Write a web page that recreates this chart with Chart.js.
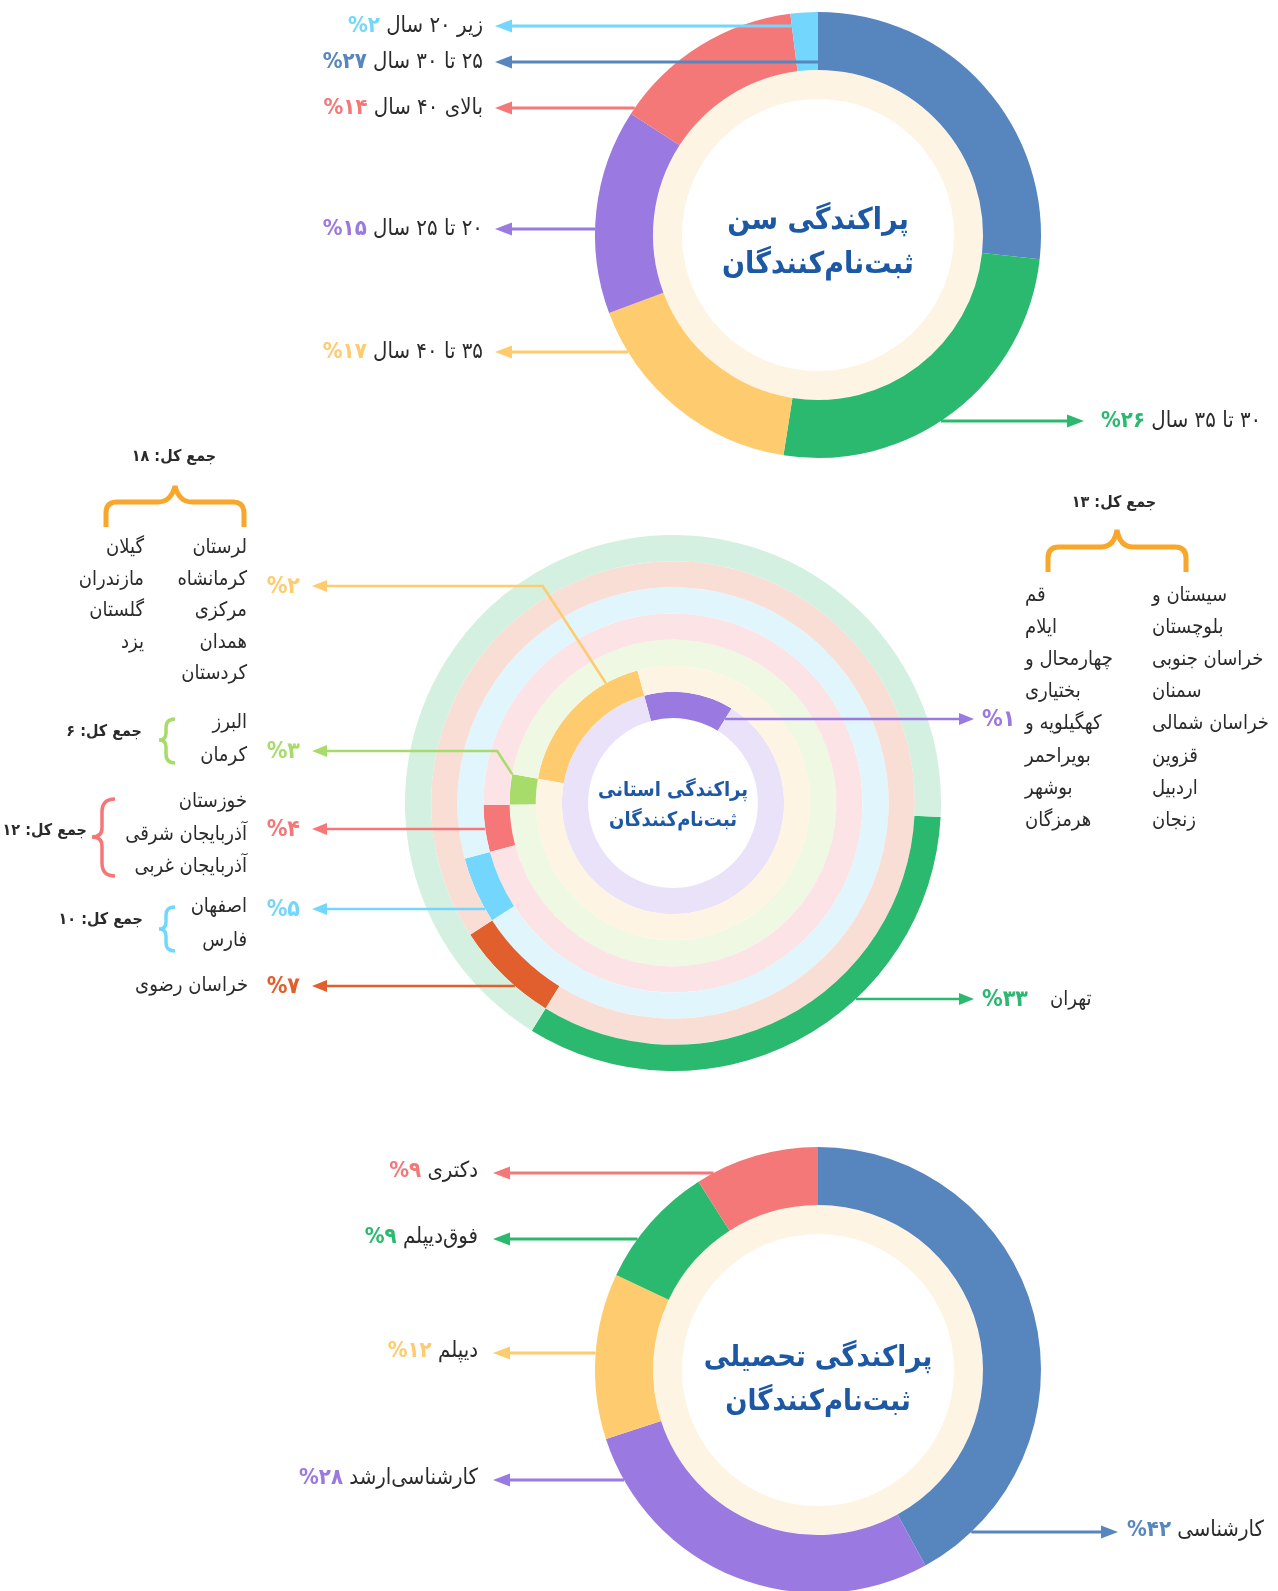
<!DOCTYPE html>
<html lang="fa">
<head>
<meta charset="utf-8">
<title>پراکندگی ثبت‌نام‌کنندگان</title>
<script src="https://cdn.jsdelivr.net/npm/chart.js@4.4.1/dist/chart.umd.min.js"></script>
<style>
  html, body { margin: 0; padding: 0; background: #fff; overflow: hidden; }
  #page { position: relative; width: 1278px; height: 1591px; overflow: hidden;
          font-family: "DejaVu Sans Condensed", "DejaVu Sans", sans-serif; }
  canvas.ring { position: absolute; left: 0; }
  .lbl { position: absolute; white-space: nowrap; direction: rtl; color: #2b2b2b; }
  .pct { font-weight: bold; direction: ltr; unicode-bidi: isolate; }
  .title { position: absolute; text-align: center; color: #1d58a5; font-weight: bold;
           direction: rtl; white-space: nowrap; }
  #braces { position: absolute; left: 0; top: 0; }
</style>
</head>
<body>
<div id="page">
  <canvas id="ageChart" class="ring" width="1278" height="470" style="top:0"></canvas>
  <canvas id="provChart" class="ring" width="1278" height="600" style="top:500px"></canvas>
  <canvas id="eduChart" class="ring" width="1278" height="480" style="top:1120px"></canvas>
  <svg id="braces" width="1278" height="1591" fill="none">
    <path d="M106,527 L106,513 Q106,502 117,502 L158,502 Q171,502 175,486 Q179,502 192,502 L233,502 Q244,502 244,513 L244,527" stroke="#f9a72b" stroke-width="5"/>
    <path d="M1048,572 L1048,558 Q1048,547 1059,547 L1101,547 Q1114,547 1117,530 Q1120,547 1133,547 L1175,547 Q1186,547 1186,558 L1186,572" stroke="#f9a72b" stroke-width="5"/>
    <path d="M175,719 Q166,719 166,728 L166,733 Q166,740 159,740 Q166,740 166,747 L166,754 Q166,763 175,763" stroke="#a7dc6b" stroke-width="3.5"/>
    <path d="M115,799 Q102,799 102,812 L102,828 Q102,837 92,837 Q102,837 102,846 L102,863 Q102,876 115,876" stroke="#f57777" stroke-width="3.5"/>
    <path d="M175,907 Q166,907 166,915 L166,922 Q166,929 159,929 Q166,929 166,936 L166,943 Q166,951 175,951" stroke="#73d7fd" stroke-width="3.5"/>
  </svg>
</div>
<script>
// ---- داده‌ها ----
var ageLabels = ['۲۵ تا ۳۰ سال', '۳۰ تا ۳۵ سال', '۳۵ تا ۴۰ سال', '۲۰ تا ۲۵ سال', 'بالای ۴۰ سال', 'زیر ۲۰ سال'];
var ageValues = [27, 26, 17, 15, 14, 2];
var ageColors = ['#5786bf', '#2bb96f', '#fecb6e', '#9a79e1', '#f57878', '#73d7fd'];

var eduLabels = ['کارشناسی', 'کارشناسی\u200cارشد', 'دیپلم', 'فوق\u200cدیپلم', 'دکتری'];
var eduValues = [42, 28, 12, 9, 9];
var eduColors = ['#5786bf', '#9a79e1', '#fecb6e', '#2bb96f', '#f57878'];

// حلقه‌های استانی، از بیرون به داخل
var provShares = [33, 7, 5, 4, 3, 2, 1];          // سهم هر استان (٪)
var provTotals = [null, null, 10, 12, 6, 18, 13];  // جمع کل هر گروه
var ringValues = [33, 7, 5, 4, 3, 18, 13];         // طول کمان هر حلقه (دو حلقه داخلی = جمع کل)
var provGroups = [
  ['تهران'],
  ['خراسان رضوی'],
  ['اصفهان', 'فارس'],
  ['خوزستان', 'آذربایجان شرقی', 'آذربایجان غربی'],
  ['البرز', 'کرمان'],
  ['لرستان', 'کرمانشاه', 'مرکزی', 'همدان', 'کردستان', 'گیلان', 'مازندران', 'گلستان', 'یزد'],
  ['سیستان و', 'بلوچستان', 'خراسان جنوبی', 'سمنان', 'خراسان شمالی', 'قزوین', 'اردبیل', 'زنجان',
   'قم', 'ایلام', 'چهارمحال و', 'بختیاری', 'کهگیلویه و', 'بویراحمر', 'بوشهر', 'هرمزگان']
];
var ringColors = ['#2bb86f', '#e05f2c', '#73d7fd', '#f57777', '#a7dc6b', '#fecb6e', '#9a79e1'];
var ringTracks = ['#d4f0e1', '#f9ded6', '#e1f5fc', '#fce3e5', '#eef8e2', '#fef4e4', '#eae2f8'];

var cream = '#fef4e4';
var ringStart = 93; // زاویه شروع زنجیره کمان‌ها (درجه)

// ---- ابزارها ----
function fa(n) {
  return String(n).replace(/\d/g, function (d) { return '۰۱۲۳۴۵۶۷۸۹'[d]; });
}

var page = document.getElementById('page');

function addText(cls, html, css) {
  var el = document.createElement('div');
  el.className = cls;
  el.innerHTML = html;
  for (var k in css) el.style[k] = css[k];
  page.appendChild(el);
  return el;
}

// متن با مرکز عمودی y؛ align: 'right' یعنی x لبه راست، 'left' یعنی x لبه چپ
function label(html, x, y, align, size, bold) {
  var h = Math.round(size * 1.6);
  var css = { fontSize: size + 'px', lineHeight: h + 'px', top: (y - h / 2) + 'px' };
  if (bold) css.fontWeight = 'bold';
  if (align === 'right') css.right = (1278 - x) + 'px';
  else if (align === 'left') css.left = x + 'px';
  else { css.left = (x - 150) + 'px'; css.width = '300px'; css.textAlign = 'center'; }
  return addText('lbl', html, css);
}

function pctSpan(v, color) {
  return '<span class="pct" style="color:' + color + '">%' + fa(v) + '</span>';
}

// نقطه روی لبه بیرونی کمان در ارتفاع y؛ اگر بیرون از کمان بود به لبه شعاعی نزدیک‌تر می‌چسبد
function edgePoint(arc, y, side) {
  var R = arc.outerRadius, r = arc.innerRadius, dy = y - arc.y;
  var dx = side * Math.sqrt(Math.max(R * R - dy * dy, 0));
  var a = Math.atan2(dy, dx), s = arc.startAngle, e = arc.endAngle, TAU = Math.PI * 2;
  while (a < s) a += TAU;
  while (a >= s + TAU) a -= TAU;
  if (a <= e) return { x: arc.x + dx, y: y };
  var b = (s + TAU - a) < (a - e) ? s : e;
  var t = Math.min(Math.max(dy / Math.sin(b), r), R);
  return { x: arc.x + t * Math.cos(b), y: arc.y + t * Math.sin(b) };
}

function leaders(items, top, width, len, half) {
  return {
    id: 'leaders',
    afterDatasetsDraw: function (chart) {
      var ctx = chart.ctx;
      ctx.save();
      items.forEach(function (it) {
        var arc = chart.getDatasetMeta(it.ds).data[it.idx];
        var y = it.y - top, pts;
        if (it.at !== undefined) {
          var a = arc.startAngle + it.at * (arc.endAngle - arc.startAngle);
          var ax = arc.x + arc.outerRadius * Math.cos(a), ay = arc.y + arc.outerRadius * Math.sin(a);
          pts = [[ax, ay], [ax + it.side * 0.65 * (ay - y), y]];
        } else {
          var p = edgePoint(arc, y, it.side);
          pts = [[p.x, p.y]];
        }
        var base = it.tip - it.side * len;
        ctx.strokeStyle = ctx.fillStyle = it.color;
        ctx.lineWidth = width;
        ctx.beginPath();
        ctx.moveTo(pts[0][0], pts[0][1]);
        for (var i = 1; i < pts.length; i++) ctx.lineTo(pts[i][0], pts[i][1]);
        ctx.lineTo(base, y);
        ctx.stroke();
        ctx.beginPath();
        ctx.moveTo(it.tip, y);
        ctx.lineTo(base, y - half);
        ctx.lineTo(base, y + half);
        ctx.closePath();
        ctx.fill();
      });
      ctx.restore();
    }
  };
}

function baseOptions(pad, cutout) {
  return {
    responsive: false,
    animation: false,
    devicePixelRatio: 1,
    events: [],
    cutout: cutout,
    layout: { padding: pad },
    plugins: { legend: { display: false }, tooltip: { enabled: false } }
  };
}

// ---- نمودار سن ----
var ageLeaders = [
  { ds: 0, idx: 5, y: 26, side: -1, tip: 495, color: ageColors[5] },
  { ds: 0, idx: 0, y: 62, side: -1, tip: 495, color: ageColors[0] },
  { ds: 0, idx: 4, y: 108, side: -1, tip: 495, color: ageColors[4] },
  { ds: 0, idx: 3, y: 229, side: -1, tip: 495, color: ageColors[3] },
  { ds: 0, idx: 2, y: 352, side: -1, tip: 495, color: ageColors[2] },
  { ds: 0, idx: 1, y: 421, side: 1, tip: 1084, color: ageColors[1] }
];

new Chart(document.getElementById('ageChart'), {
  type: 'doughnut',
  data: {
    labels: ageLabels,
    datasets: [
      { data: ageValues, backgroundColor: ageColors, borderWidth: 0, weight: 2 },
      { data: [1], backgroundColor: [cream], borderWidth: 0, weight: 1 }
    ]
  },
  options: baseOptions({ left: 595, right: 237, top: 12, bottom: 12 }, '61%'),
  plugins: [leaders(ageLeaders, 0, 3, 17, 6.5)]
});

ageLeaders.forEach(function (l) {
  var html = ageLabels[l.idx] + ' ' + pctSpan(ageValues[l.idx], ageColors[l.idx]);
  if (l.side < 0) label(html, 483, l.y - 2, 'right', 22);
  else label(html, 1101, l.y - 2, 'left', 22);
});
addText('title', 'پراکندگی سن<br>ثبت\u200cنام\u200cکنندگان',
  { left: '668px', width: '300px', top: '197px', fontSize: '30px', lineHeight: '44px' });

// ---- نمودار استانی ----
var acc = 0;
var ringSets = ringValues.map(function (v, i) {
  var rot = ringStart + acc * 3.6;
  acc += v;
  return {
    data: [v, 100 - v],
    backgroundColor: [ringColors[i], ringTracks[i]],
    borderWidth: 0,
    rotation: rot
  };
});

var provLeaders = [
  { ds: 0, idx: 0, y: 999, side: 1, tip: 974 },
  { ds: 1, idx: 0, y: 986, side: -1, tip: 312 },
  { ds: 2, idx: 0, y: 909, side: -1, tip: 312 },
  { ds: 3, idx: 0, y: 829, side: -1, tip: 312 },
  { ds: 4, idx: 0, y: 751, side: -1, tip: 312, at: 1 },
  { ds: 5, idx: 0, y: 586, side: -1, tip: 312, at: 0.78 },
  { ds: 6, idx: 0, y: 719, side: 1, tip: 974 }
];
provLeaders.forEach(function (l) { l.color = ringColors[l.ds]; });

new Chart(document.getElementById('provChart'), {
  type: 'doughnut',
  data: { labels: ['', ''], datasets: ringSets },
  options: baseOptions({ left: 405, right: 337, top: 35, bottom: 29 }, '31.7%'),
  plugins: [leaders(provLeaders, 500, 2.5, 15, 6)]
});

provLeaders.forEach(function (l) {
  var html = pctSpan(provShares[l.ds], ringColors[l.ds]);
  label(html, l.side < 0 ? 300 : 982, l.y - 1, l.side < 0 ? 'right' : 'left', 23);
});

function total(v) { return 'جمع کل: ' + fa(v); }

// تهران و خراسان رضوی
label(provGroups[0][0], 1050, 998, 'left', 20);
label(provGroups[1][0], 248, 984, 'right', 20);
// اصفهان، فارس
label(provGroups[2][0], 247, 905, 'right', 20);
label(provGroups[2][1], 247, 939, 'right', 20);
label(total(provTotals[2]), 143, 919, 'right', 16, true);
// خوزستان و آذربایجان
provGroups[3].forEach(function (n, i) { label(n, 247, 800 + i * 32.5, 'right', 20); });
label(total(provTotals[3]), 87, 830, 'right', 16, true);
// البرز، کرمان
provGroups[4].forEach(function (n, i) { label(n, 247, 721 + i * 32.5, 'right', 20); });
label(total(provTotals[4]), 142, 731, 'right', 16, true);
// گروه ۲٪
provGroups[5].forEach(function (n, i) {
  if (i < 5) label(n, 247, 546 + i * 31.6, 'right', 20);
  else label(n, 144, 546 + (i - 5) * 31.6, 'right', 20);
});
label(total(provTotals[5]), 174, 456, 'center', 16, true);
// گروه ۱٪
provGroups[6].forEach(function (n, i) {
  if (i < 8) label(n, 1152, 594 + i * 32.1, 'left', 20);
  else label(n, 1025, 594 + (i - 8) * 32.1, 'left', 20);
});
label(total(provTotals[6]), 1114, 502, 'center', 16, true);

addText('title', 'پراکندگی استانی<br>ثبت\u200cنام\u200cکنندگان',
  { left: '523px', width: '300px', top: '774px', fontSize: '20px', lineHeight: '30px' });

// ---- نمودار تحصیلی ----
var eduLeaders = [
  { ds: 0, idx: 4, y: 1173, side: -1, tip: 493, color: eduColors[4] },
  { ds: 0, idx: 3, y: 1239, side: -1, tip: 493, color: eduColors[3] },
  { ds: 0, idx: 2, y: 1353, side: -1, tip: 493, color: eduColors[2] },
  { ds: 0, idx: 1, y: 1480, side: -1, tip: 493, color: eduColors[1] },
  { ds: 0, idx: 0, y: 1532, side: 1, tip: 1118, color: eduColors[0] }
];

new Chart(document.getElementById('eduChart'), {
  type: 'doughnut',
  data: {
    labels: eduLabels,
    datasets: [
      { data: eduValues, backgroundColor: eduColors, borderWidth: 0, weight: 2 },
      { data: [1], backgroundColor: [cream], borderWidth: 0, weight: 1 }
    ]
  },
  options: baseOptions({ left: 595, right: 237, top: 27, bottom: 7 }, '61%'),
  plugins: [leaders(eduLeaders, 1120, 3, 17, 6.5)]
});

eduLeaders.forEach(function (l) {
  var html = eduLabels[l.idx] + ' ' + pctSpan(eduValues[l.idx], eduColors[l.idx]);
  if (l.side < 0) label(html, 478, l.y - 4, 'right', 22);
  else label(html, 1127, l.y - 4, 'left', 22);
});
addText('title', 'پراکندگی تحصیلی<br>ثبت\u200cنام\u200cکنندگان',
  { left: '668px', width: '300px', top: '1334px', fontSize: '29px', lineHeight: '44px' });
</script>
</body>
</html>
